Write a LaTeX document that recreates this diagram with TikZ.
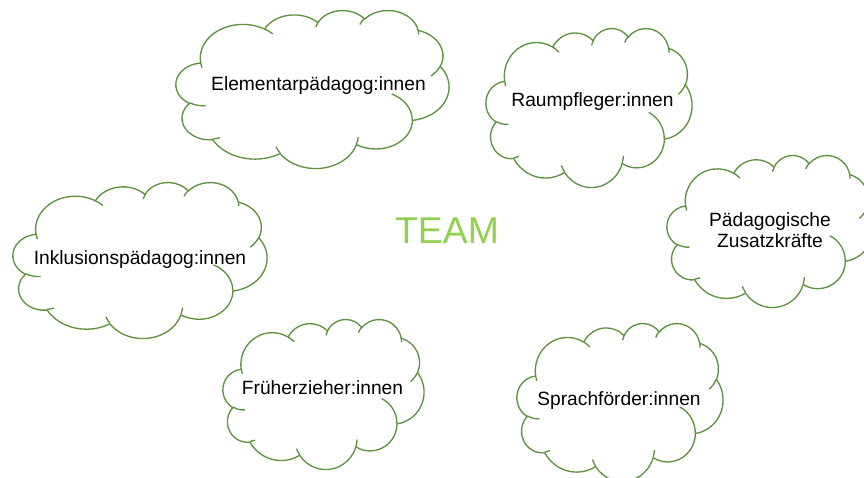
\documentclass[tikz,border=0pt]{standalone}
\usepackage{fontspec}
\setmainfont{Liberation Sans}
\definecolor{cloud_green}{HTML}{5E9140}
\definecolor{team_green}{HTML}{92D050}
\tikzstyle{cloudline}=[draw=cloud_green,line width=1pt,line join=round]
\tikzstyle{ctext}=[inner sep=0pt,text=black,font=\fontsize{14.4}{15.75}\selectfont]
\tikzstyle{title}=[inner sep=0pt,text=team_green,font=\fontsize{28}{34}\selectfont]
% one arc of the cloud outline: x radius, y radius, start and sweep (visual angles)
\newcommand{\cloudarc}[4]{arc[x radius=#1,y radius=#2,
  start angle={atan2(#1*sin(#3),#2*cos(#3))},
  delta angle={mod(atan2(#1*sin(#3+#4),#2*cos(#3+#4))-atan2(#1*sin(#3),#2*cos(#3))+720,360)}]}
% cloud in a box: left, top, width, height (px)
\newcommand{\teamcloud}[4]{%
  \begin{scope}[shift={(#1,#2)},x=#3pt/576,y=-#4pt/576]
    \draw [cloudline,fill=white] (39.00,143.70)
      \cloudarc{67.53}{91.90}{-190.4875}{123.7805}
      \cloudarc{53.33}{72.67}{-144.1024}{89.9452}
      \cloudarc{43.65}{59.45}{-145.8079}{99.7230}
      \cloudarc{48.57}{65.95}{-130.9861}{117.2417}
      \cloudarc{53.33}{72.73}{-78.7089}{109.0269}
      \cloudarc{67.75}{92.20}{-46.2673}{130.2690}
      \cloudarc{57.85}{78.67}{0.6250}{114.0333}
      \cloudarc{67.52}{92.15}{22.4516}{115.1726}
      \cloudarc{77.20}{105.43}{66.2426}{75.7110}
      \cloudarc{43.60}{59.18}{-274.9421}{146.7356}
      \cloudarc{43.45}{59.45}{-246.8285}{152.5189} -- cycle;
    \draw [cloudline]
      (46.93,261.77) \cloudarc{43.45}{59.45}{86.7420}{26.4295}
      (69.28,348.99) \cloudarc{43.60}{59.18}{73.6105}{11.4475}
      (164.78,390.90) \cloudarc{67.52}{92.15}{137.6241}{14.0811}
      (288.27,347.51) \cloudarc{67.52}{92.15}{6.4533}{15.9984}
      (341.29,229.54) \cloudarc{57.85}{78.67}{-70.2924}{70.9174}
      (417.98,153.54) \cloudarc{53.33}{72.73}{30.3180}{27.7515}
      (383.24,54.26) \cloudarc{48.57}{65.95}{-13.7443}{14.8589}
      (290.78,39.52) \cloudarc{48.57}{65.95}{-149.1815}{18.1954}
      (221.41,47.20) \cloudarc{43.65}{59.45}{-163.4943}{17.6864}
      (140.00,51.92) \cloudarc{67.53}{91.90}{-66.7070}{12.3194}
      (41.27,157.89) \cloudarc{67.53}{91.90}{157.6544}{11.8582};
  \end{scope}}

\begin{document}
\begin{tikzpicture}[x=0.75pt,y=-0.75pt]
  \useasboundingbox (0,0) rectangle (864,478);
  % clouds
  \teamcloud{176}{10}{273}{158}
  \teamcloud{486}{28}{206}{159}
  \teamcloud{667}{155}{206}{152}
  \teamcloud{13}{182}{254}{156}
  \teamcloud{223}{319}{201}{150}
  \teamcloud{517}{323}{206}{158}
  % texts
  \node [style=title,anchor=base] (team) at (447,243) {TEAM};
  \node [style=ctext,anchor=base] (elem) at (318.5,91) {Elementarpädagog:innen};
  \node [style=ctext,anchor=base] (raum) at (592.5,107) {Raumpfleger:innen};
  \node [style=ctext,align=center] (zusatz) at (770,230.6) {Pädagogische\\Zusatzkräfte};
  \node [style=ctext,anchor=base] (inklusion) at (140,264) {Inklusionspädagog:innen};
  \node [style=ctext,anchor=base] (frueh) at (322.5,394) {Früherzieher:innen};
  \node [style=ctext,anchor=base] (sprach) at (619,405) {Sprachförder:innen};
\end{tikzpicture}
\end{document}
